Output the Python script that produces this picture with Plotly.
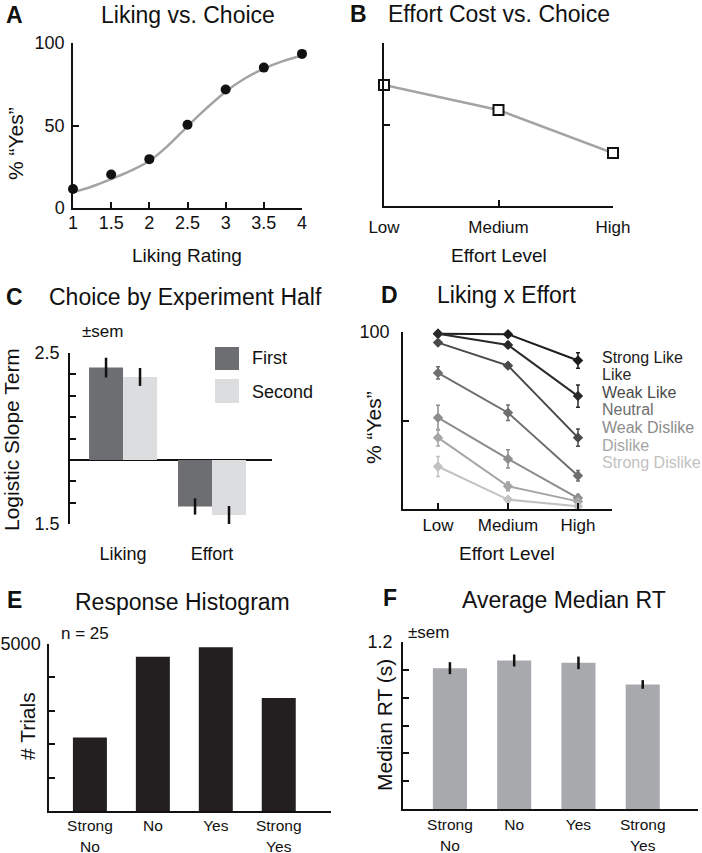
import plotly.graph_objects as go

W, H = 702, 853
FONT = "Liberation Sans, Arial, Helvetica, sans-serif"

# ---------------- data ----------------
# A: Liking vs Choice
liking_rating = [1, 1.5, 2, 2.5, 3, 3.5, 4]
liking_yes = [11.5, 20.3, 29.6, 50.5, 71.8, 85.1, 93.4]
fit_x = [1, 1.25, 1.5, 1.75, 2, 2.25, 2.5, 2.75, 3, 3.25, 3.5, 3.75, 4]
fit_y = [9.5, 13, 17.5, 22.5, 28.5, 38, 49.5, 60.5, 70.5, 78.5, 84.5, 89, 92.5]

# B: Effort cost vs Choice
effort_levels = ["Low", "Medium", "High"]
effort_yes = [74.2, 58.9, 32.5]

# C: Choice by experiment half
half_terms = ["Liking", "Effort"]
first_half = [2.16, -1.09]
first_half_err = [0.23, 0.19]
second_half = [1.94, -1.29]
second_half_err = [0.21, 0.21]
c_tick_vals = [-1.5, -1.0, -0.5, 0, 0.5, 1.0, 1.5, 2.0, 2.5]
c_tick_text = ["1.5", "", "", "", "", "", "", "", "2.5"]

# D: Liking x Effort
d_labels = ["Strong Like", "Like", "Weak Like", "Neutral", "Weak Dislike", "Dislike", "Strong Dislike"]
d_strong_like = [99, 98.7, 83.9]
d_like = [99, 92.7, 63.8]
d_weak_like = [94, 81, 40.3]
d_neutral = [76.9, 54.4, 18.8]
d_weak_dislike = [51.6, 28.3, 6.2]
d_dislike = [40.3, 12.8, 4.3]
d_strong_dislike = [24, 5.3, 1.5]
d_values = [d_strong_like, d_like, d_weak_like, d_neutral, d_weak_dislike, d_dislike, d_strong_dislike]
d_errors = [[1, 1, 4.4], [1, 1.5, 6.3], [1, 1.5, 4.9], [3.5, 4.4, 3], [7, 5.2, 2], [4.7, 2.5, 1.5], [5.6, 1.5, 1]]
d_colors = ["#1c1c1c", "#2a2a2a", "#4a4a4a", "#6e6e6e", "#8c8c8c", "#a6a6a6", "#c2c2c2"]

# E: Response histogram
resp_labels = ["Strong<br>No", "No", "Yes", "Strong<br>Yes"]
resp_trials = [2200, 4620, 4900, 3380]

# F: Average median RT
median_rt = [1.012, 1.067, 1.05, 0.895]
median_rt_err = [0.043, 0.043, 0.045, 0.031]


def xp(px):
    return px / W


def yp(py):
    return 1 - py / H


fig = go.Figure()

# ---- A ----
fig.add_trace(go.Scatter(x=fit_x, y=fit_y, mode="lines", line=dict(color="#a3a3a3", width=2.5, shape="spline"),
                         xaxis="x", yaxis="y", cliponaxis=False))
fig.add_trace(go.Scatter(x=liking_rating, y=liking_yes, mode="markers",
                         marker=dict(color="#111111", size=10), xaxis="x", yaxis="y", cliponaxis=False))

# ---- B ----
fig.add_trace(go.Scatter(x=[0, 1, 2], y=effort_yes, mode="lines+markers",
                         line=dict(color="#a3a3a3", width=2.5),
                         marker=dict(symbol="square", size=10, color="white", line=dict(color="#111111", width=2)),
                         xaxis="x2", yaxis="y2", cliponaxis=False))

# ---- C ----
fig.add_trace(go.Bar(x=[0, 1], y=first_half, marker=dict(color="#6d6e71", line=dict(width=0)),
                     error_y=dict(type="data", array=first_half_err, color="#111111", thickness=2.5, width=0),
                     xaxis="x3", yaxis="y3"))
fig.add_trace(go.Bar(x=[0, 1], y=second_half, marker=dict(color="#dcdddf", line=dict(width=0)),
                     error_y=dict(type="data", array=second_half_err, color="#111111", thickness=2.5, width=0),
                     xaxis="x3", yaxis="y3"))

# ---- D ----
for vals, errs, col in zip(d_values, d_errors, d_colors):
    fig.add_trace(go.Scatter(x=[0, 1, 2], y=vals, mode="lines+markers",
                             line=dict(color=col, width=2),
                             marker=dict(symbol="diamond", size=8, color=col),
                             error_y=dict(type="data", array=errs, color=col, thickness=1.5, width=2),
                             xaxis="x4", yaxis="y4", cliponaxis=False))

# ---- E ----
fig.add_trace(go.Bar(x=[0, 1, 2, 3], y=resp_trials, width=0.54, marker=dict(color="#231f20", line=dict(width=0)),
                     xaxis="x5", yaxis="y5"))

# ---- F ----
fig.add_trace(go.Bar(x=[0, 1, 2, 3], y=median_rt, width=0.53, marker=dict(color="#a7a9ac", line=dict(width=0)),
                     error_y=dict(type="data", array=median_rt_err, color="#111111", thickness=2.5, width=0),
                     xaxis="x6", yaxis="y6"))

axcommon = dict(showline=True, linecolor="#111111", linewidth=1.5, ticks="inside", ticklen=6,
                tickwidth=1.5, tickcolor="#111111", showgrid=False, zeroline=False, automargin=False,
                tickfont=dict(family=FONT, size=18, color="#111111"))


def ax(**kw):
    d = dict(axcommon)
    d.update(kw)
    return d


TF17 = dict(family=FONT, size=17, color="#111111")
TF15 = dict(family=FONT, size=15.5, color="#111111")

layout = dict(
    width=W, height=H, margin=dict(l=0, r=0, t=0, b=0, autoexpand=False),
    paper_bgcolor="white", plot_bgcolor="white", showlegend=False,
    barmode="group", bargap=0.236, bargroupgap=0,
    font=dict(family=FONT, color="#111111"),
    # A
    xaxis=ax(domain=[xp(73), xp(302)], range=[1, 4], tickvals=liking_rating,
             ticktext=["1", "1.5", "2", "2.5", "3", "3.5", "4"], anchor="y", ticklabelstandoff=-2),
    yaxis=ax(domain=[yp(208), yp(43)], range=[0, 100], tickvals=[0, 50, 100], anchor="x", ticklabelstandoff=3),
    # B
    xaxis2=ax(domain=[xp(384), xp(613)], range=[0, 2], tickvals=[0, 1, 2], ticktext=effort_levels,
              anchor="y2", ticklabelstandoff=5, tickfont=TF17),
    yaxis2=ax(domain=[yp(206), yp(43)], range=[0, 100], tickvals=[0, 50, 100], showticklabels=False, anchor="x2"),
    # C
    xaxis3=ax(domain=[xp(70), xp(272)], range=[-0.596, 1.674], tickvals=[0, 1], ticktext=half_terms,
              showline=False, ticks="", anchor="y3", ticklabelstandoff=17),
    yaxis3=ax(domain=[yp(524), yp(353)], range=[-1.5, 2.5], tickvals=c_tick_vals, ticktext=c_tick_text,
              zeroline=True, zerolinecolor="#111111", zerolinewidth=1.5, anchor="x3", ticklabelstandoff=5),
    # D
    xaxis4=ax(domain=[xp(403), xp(612)], range=[-0.5, 2.486], tickvals=[0, 1, 2], ticktext=effort_levels,
              anchor="y4", ticklabelstandoff=0, tickfont=TF17),
    yaxis4=ax(domain=[yp(509), yp(332)], range=[0, 100], tickvals=[50, 100], ticktext=["", "100"],
              anchor="x4", ticklabelstandoff=8),
    # E
    xaxis5=ax(domain=[xp(49), xp(331)], range=[-0.65, 3.83], tickvals=[0, 1, 2, 3], ticktext=resp_labels,
              ticks="", anchor="y5", ticklabelstandoff=0, tickfont=TF15),
    yaxis5=ax(domain=[yp(811), yp(644)], range=[0, 5000], tickvals=[0, 1000, 2000, 3000, 4000, 5000],
              ticktext=["", "", "", "", "", "5000"], anchor="x5", ticklabelstandoff=3),
    # F
    xaxis6=ax(domain=[xp(403), xp(698)], range=[-0.73, 3.86], tickvals=[0, 1, 2, 3], ticktext=resp_labels,
              ticks="", anchor="y6", ticklabelstandoff=1, tickfont=TF15),
    yaxis6=ax(domain=[yp(809), yp(642)], range=[0, 1.2], tickvals=[0, 0.2, 0.4, 0.6, 0.8, 1.0, 1.2],
              ticktext=["", "", "", "", "", "", "1.2"], anchor="x6", ticklabelstandoff=5),
)
fig.update_layout(**layout)

ann = []


def text(x, y, s, size=18, bold=False, color="#111111", angle=0, xanchor="center"):
    ann.append(dict(x=xp(x), y=yp(y), xref="paper", yref="paper", text=("<b>%s</b>" % s) if bold else s,
                    showarrow=False, textangle=angle, xanchor=xanchor, yanchor="middle",
                    font=dict(family=FONT, size=size, color=color)))


# panel letters
text(14, 15, "A", 23, True)
text(358, 14, "B", 23, True)
text(14, 297, "C", 23, True)
text(389, 295, "D", 23, True)
text(14, 600, "E", 23, True)
text(390, 598, "F", 23, True)
# titles
text(188, 15, "Liking vs. Choice", 23)
text(499, 14, "Effort Cost vs. Choice", 23)
text(185, 297, "Choice by Experiment Half", 23)
text(507, 295, "Liking x Effort", 23)
text(182, 602, "Response Histogram", 23)
text(564, 600, "Average Median RT", 23)
# axis titles
text(187, 255, "Liking Rating", 19)
text(499, 255, "Effort Level", 19)
text(507, 553, "Effort Level", 19)
text(15, 144, "% “Yes”", 21, angle=-90)
text(373, 428, "% “Yes”", 21, angle=-90)
text(12, 440, "Logistic Slope Term", 21, angle=-90)
text(27, 726, "# Trials", 21, angle=-90)
text(384, 725, "Median RT (s)", 21, angle=-90)
# misc
text(102, 332, "±sem", 17)
text(428, 632, "±sem", 17)
text(85, 633, "n = 25", 17)
# C legend
text(250, 358, "First", 18, xanchor="left")
text(250, 392, "Second", 18, xanchor="left")
# D legend
for i, (lab, col) in enumerate(zip(d_labels, d_colors)):
    text(600, 357 + i * 17.6, lab, 16, color=col, xanchor="left")

shapes = [
    dict(type="rect", xref="paper", yref="paper", x0=xp(215), x1=xp(239), y0=yp(370), y1=yp(347),
         fillcolor="#6d6e71", line=dict(width=0)),
    dict(type="rect", xref="paper", yref="paper", x0=xp(215), x1=xp(239), y0=yp(403), y1=yp(379),
         fillcolor="#dcdddf", line=dict(width=0)),
]
fig.update_layout(annotations=ann, shapes=shapes)

fig.write_html("out.html", config={"displayModeBar": False},
               post_script="document.body.style.margin='0';document.body.style.padding='0';"
                           "document.body.style.overflow='hidden';")
